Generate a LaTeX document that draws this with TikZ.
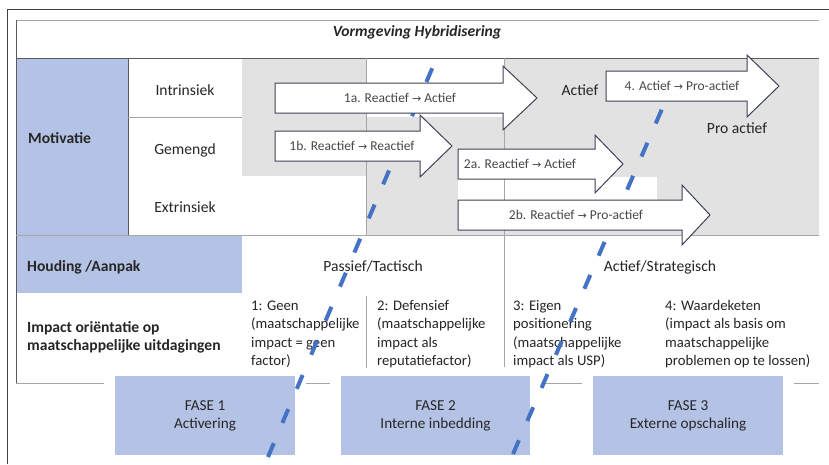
\documentclass[tikz,border=0pt]{standalone}
\usepackage{fontspec}
\setmainfont{Carlito}
\newfontfamily\arrowfont{DejaVu Sans}
\newcommand\rarr{{\arrowfont\fontsize{11}{11}\selectfont →}}
\definecolor{cellblue}{HTML}{B4C3E5}
\definecolor{cellgrey}{HTML}{E2E2E2}
\definecolor{dashblue}{HTML}{4472C4}
\definecolor{txtc}{HTML}{262626}
\definecolor{linec}{HTML}{5A5A5A}
\definecolor{lightline}{HTML}{A6A6A6}
\definecolor{arrowc}{HTML}{3E4256}
\begin{document}
\begin{tikzpicture}[x=1pt,y=-1pt,
  txt/.style={font=\fontsize{14.7}{18.5}\selectfont, text=txtc, inner sep=0pt},
  lbl/.style={txt, font=\fontsize{15.6}{18.5}\selectfont},
  hdr/.style={txt, font=\fontsize{15.6}{18}\selectfont\bfseries},
  arrowlbl/.style={font=\fontsize{13.5}{16}\selectfont, text=txtc!85!white, inner sep=0pt},
  phase/.style={txt, font=\fontsize{15.2}{18}\selectfont, fill=cellblue, align=center, minimum width=#1, minimum height=79pt},
  tableline/.style={draw=linec, line width=0.9pt},
  softline/.style={draw=lightline, line width=0.7pt},
  bigarrow/.style={draw=arrowc, fill=white, line width=1pt, line join=miter},
  phaseline/.style={draw=dashblue, line width=4pt, dash pattern=#1}
]
\useasboundingbox (0,0) rectangle (829,464);
\fill[white] (0,0) rectangle (829,464);

% outer frame
\draw[draw=black!75, line width=1pt] (7,464) -- (7,9) -- (829,9);

% cell fills
\fill[cellblue] (16,58) rectangle (128,235);
\fill[cellblue] (16,235) rectangle (242,293);
\fill[cellgrey] (242,58) rectangle (366,176);
\fill[cellgrey] (366,117) rectangle (504,235);
\fill[cellgrey] (504,58) rectangle (819,235);
\fill[white] (458,177) rectangle (657,200);

% table lines
\draw[softline] (16,20) -- (819,20);
\draw[tableline] (16,20) -- (16,383);
\draw[tableline] (16,58) -- (819,58);
\draw[tableline] (128,58) -- (128,235);
\draw[softline] (128,117) -- (242,117);
\draw[softline] (16,235) -- (819,235);
\draw[softline] (366,58) -- (366,235);
\draw[softline] (366,296) -- (366,368);
\draw[softline] (504,58) -- (504,367);
\draw[softline] (16,383) -- (104,383);
\draw[softline] (306,383) -- (330,383);
\draw[softline] (541,383) -- (582,383);
\draw[softline] (794,383) -- (819,383);

% texts
\node[hdr, font=\fontsize{15.6}{18}\selectfont\bfseries\itshape, anchor=base] (title) at (417,36) {Vormgeving Hybridisering};
\node[hdr, anchor=base west] (mot) at (28,143) {Motivatie};
\node[lbl, anchor=base] (intr) at (185,95) {Intrinsiek};
\node[lbl, anchor=base] (gem) at (185,154) {Gemengd};
\node[lbl, anchor=base] (extr) at (185,212) {Extrinsiek};
\node[hdr, anchor=base west] (houd) at (27,271) {Houding /Aanpak};
\node[lbl, anchor=base] (pass) at (373,271) {Passief/Tactisch};
\node[lbl, anchor=base] (act) at (660,271) {Actief/Strategisch};
\node[hdr, align=left, anchor=north west] (imp) at (27,319.4) {\strut Impact oriëntatie op\\maatschappelijke uitdagingen};
\node[txt, align=left, anchor=north west] (t1) at (251,297) {\strut 1: Geen\\(maatschappelijke\\impact = geen\\factor)};
\node[txt, align=left, anchor=north west] (t2) at (377,297) {\strut 2: Defensief\\(maatschappelijke\\impact als\\reputatiefactor)};
\node[txt, align=left, anchor=north west] (t3) at (513,297) {\strut 3: Eigen\\positionering\\(maatschappelijke\\impact als USP)};
\node[txt, align=left, anchor=north west] (t4) at (665,297) {\strut 4: Waardeketen\\(impact als basis om\\maatschappelijke\\problemen op te lossen)};

% phase boxes
\node[phase=180pt] (f1) at (205,415.5) {FASE 1\\Activering};
\node[phase=189pt] (f2) at (435.5,415.5) {FASE 2\\Interne inbedding};
\node[phase=190pt] (f3) at (688,415.5) {FASE 3\\Externe opschaling};

% dashed phase boundaries
\draw[phaseline={on 15pt off 22pt}] (268,457) -- (434,64);
\draw[phaseline={on 15pt off 21pt}] (513,454) -- (684,58);

% arrows
\draw[bigarrow] (275,83) -- (503,83) -- (503,66) -- (537,98) -- (503,130) -- (503,113) -- (275,113) -- cycle;
\node[arrowlbl] (l1a) at (400,98) {1a. Reactief \rarr{} Actief};
\draw[bigarrow] (275,131) -- (420,131) -- (420,115) -- (452,146) -- (420,177) -- (420,161) -- (275,161) -- cycle;
\node[arrowlbl] (l1b) at (352,146) {1b. Reactief \rarr{} Reactief};
\draw[bigarrow] (458,149) -- (595,149) -- (595,135) -- (623,164) -- (595,193) -- (595,179) -- (458,179) -- cycle;
\node[arrowlbl] (l2a) at (520,164) {2a. Reactief \rarr{} Actief};
\draw[bigarrow] (458,200) -- (682,200) -- (682,185) -- (710,215) -- (682,245) -- (682,230) -- (458,230) -- cycle;
\node[arrowlbl] (l2b) at (576,215) {2b. Reactief \rarr{} Pro-actief};
\draw[bigarrow] (606,71) -- (747,71) -- (747,55) -- (779,86) -- (747,117) -- (747,101) -- (606,101) -- cycle;
\node[arrowlbl] (l4) at (682,86) {4. Actief \rarr{} Pro-actief};

\node[lbl, anchor=base] (actief) at (580,95) {Actief};
\node[lbl, anchor=base] (proactief) at (737,133) {Pro actief};
\end{tikzpicture}
\end{document}
